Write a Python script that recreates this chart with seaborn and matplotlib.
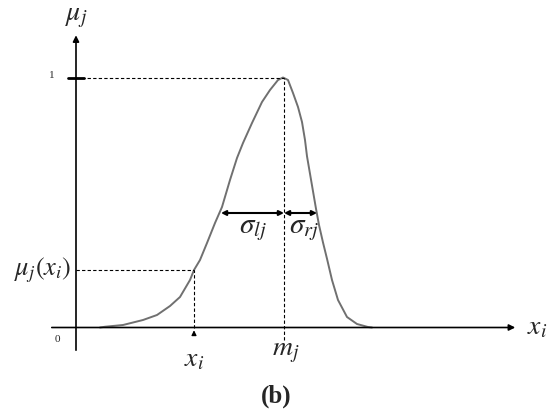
import numpy as np
import pandas as pd
import seaborn as sns
import matplotlib
matplotlib.use("Agg")
import matplotlib.pyplot as plt

# membership curve
curve_x = [0.24, 0.29, 0.47, 0.67, 0.81, 0.94, 1.04, 1.14, 1.18, 1.24, 1.31, 1.39, 1.46, 1.54,
           1.61, 1.67, 1.76, 1.86, 1.94, 2.02, 2.07, 2.12, 2.17, 2.22, 2.26, 2.29, 2.31, 2.34,
           2.37, 2.40, 2.43, 2.47, 2.51, 2.56, 2.62, 2.71, 2.81, 2.92, 2.96]
curve_y = [0.0, 0.003, 0.01, 0.03, 0.05, 0.086, 0.122, 0.19, 0.23, 0.27, 0.338, 0.418, 0.482, 0.59,
           0.678, 0.738, 0.818, 0.902, 0.95, 0.99, 1.0, 0.99, 0.938, 0.882, 0.822, 0.75, 0.685, 0.615,
           0.545, 0.475, 0.41, 0.34, 0.275, 0.19, 0.11, 0.042, 0.014, 0.002, 0.0]
m_j = 2.08
x_i = 1.18
mu_xi = 0.23
sigma_l_start = 1.45
sigma_r_end = 2.41
sigma_y = 0.458

df = pd.DataFrame({"x": curve_x, "y": curve_y})

sns.set_style("white")
plt.rcParams["mathtext.fontset"] = "stix"
plt.rcParams["font.family"] = ["Liberation Serif", "DejaVu Serif"]

fig = plt.figure(figsize=(5.5, 4.18), dpi=100)
ax = fig.add_axes([0, 0, 1, 1])
ax.set_xlim(-0.76, 4.74)
ax.set_ylim(-0.362, 1.31)
ax.axis("off")

sns.lineplot(data=df, x="x", y="y", sort=False, color="#707070", lw=1.4, ax=ax)

# axes with arrows
ax.annotate("", xy=(4.42, 0), xytext=(-0.27, 0),
            arrowprops=dict(arrowstyle="-|>", color="black", lw=1.2, mutation_scale=9))
ax.annotate("", xy=(0, 1.18), xytext=(0, -0.102),
            arrowprops=dict(arrowstyle="-|>", color="black", lw=1.2, mutation_scale=9))
ax.plot([-0.08, 0.08], [1, 1], color="black", lw=2)

# dashed guides
ax.plot([0, m_j], [1, 1], ls=(0, (3, 2)), color="black", lw=0.8)
ax.plot([m_j, m_j], [-0.05, 1], ls=(0, (3, 2)), color="black", lw=0.8)
ax.plot([0, x_i], [mu_xi, mu_xi], ls=(0, (3, 2)), color="black", lw=0.8)
ax.plot([x_i, x_i], [0, mu_xi], ls=(0, (3, 2)), color="black", lw=0.8)
ax.annotate("", xy=(x_i, 0.0), xytext=(x_i, -0.04),
            arrowprops=dict(arrowstyle="-|>", color="black", lw=0.9, mutation_scale=7))

# sigma arrows
ax.annotate("", xy=(sigma_l_start, sigma_y), xytext=(m_j, sigma_y),
            arrowprops=dict(arrowstyle="<|-|>", color="black", lw=1.5, mutation_scale=7,
                            shrinkA=0, shrinkB=0))
ax.annotate("", xy=(m_j, sigma_y), xytext=(sigma_r_end, sigma_y),
            arrowprops=dict(arrowstyle="<|-|>", color="black", lw=1.5, mutation_scale=7,
                            shrinkA=0, shrinkB=0))

ax.text(1.77, 0.39, r"$\sigma_{lj}$", fontsize=21, ha="center", va="center")
ax.text(2.28, 0.39, r"$\sigma_{rj}$", fontsize=21, ha="center", va="center")

ax.text(0.0, 1.24, r"$\mu_j$", fontsize=20, ha="center", va="center")
ax.text(-0.24, 1.01, "1", fontsize=8, ha="center", va="center")
ax.text(-0.19, -0.046, "0", fontsize=8, ha="center", va="center")
ax.text(-0.05, mu_xi, r"$\mu_j(x_i)$", fontsize=19, ha="right", va="center")
ax.text(x_i, -0.13, r"$x_i$", fontsize=20, ha="center", va="center")
ax.text(m_j + 0.02, -0.1, r"$m_j$", fontsize=20, ha="center", va="center")
ax.text(4.51, 0.0, r"$x_i$", fontsize=20, ha="left", va="center")
ax.text(2.0, -0.274, "(b)", fontsize=18, fontweight="bold", ha="center", va="center")

fig.savefig("out.png", dpi=100, facecolor="white")
